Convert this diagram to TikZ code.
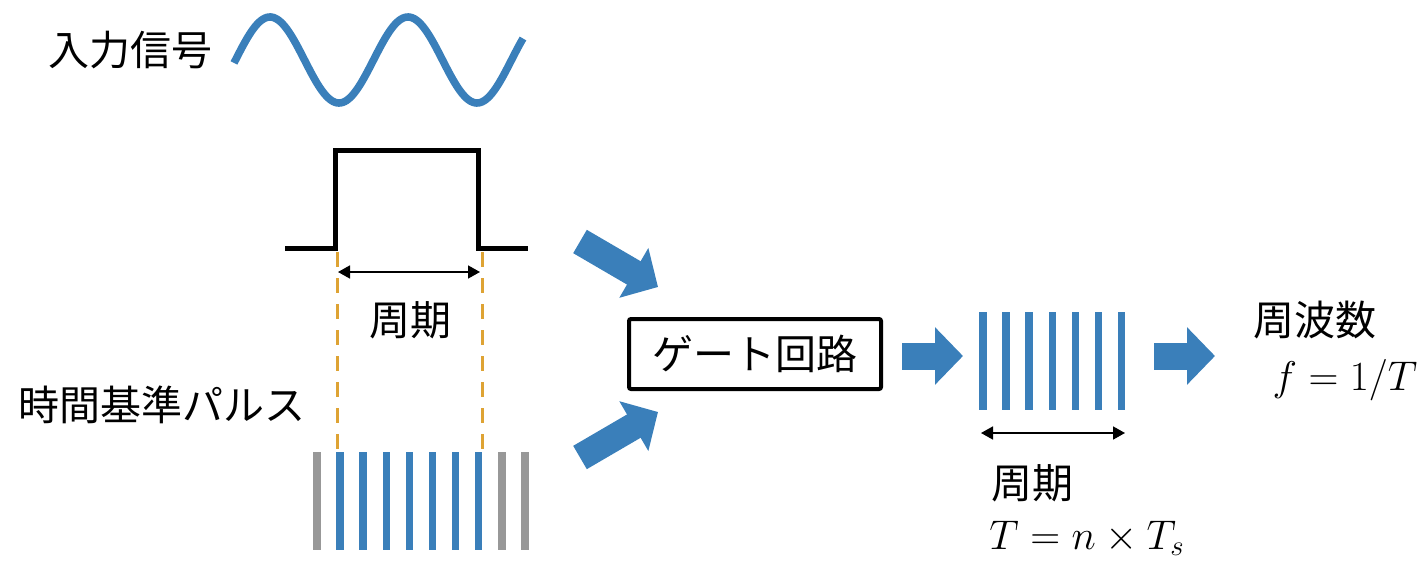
\documentclass[tikz,border=0pt]{standalone}
\usepackage{fontspec}
\setmainfont{Noto Sans CJK JP}
\usetikzlibrary{arrows.meta}
\definecolor{sigblue}{RGB}{58,127,186}
\definecolor{baregray}{RGB}{152,152,152}
\definecolor{dashorange}{RGB}{222,163,52}
\tikzset{
  jp/.style={font=\fontsize{20.5}{24}\selectfont, inner sep=0pt},
  mathlbl/.style={font=\fontsize{21}{24}\selectfont, inner sep=0pt},
  sine/.style={draw=sigblue, line width=3.8pt, line cap=butt},
  pulse/.style={draw=black, line width=2.5pt, line join=miter},
  guide/.style={draw=dashorange, line width=1.5pt, dash pattern=on 7.5pt off 5.5pt},
  dimarrow/.style={draw=black, line width=0.85pt, {Triangle[length=6pt,width=6.5pt]}-{Triangle[length=6pt,width=6.5pt]}},
  bigarrow/.style={draw=sigblue, line width=13.5pt, -{Triangle[length=14pt,width=28pt]}},
  gatebox/.style={draw=black, line width=2pt, rounded corners=1pt, minimum width=126pt, minimum height=35pt, inner sep=0pt, font=\fontsize{20.5}{24}\selectfont},
  bluebar/.style={fill=sigblue},
  graybar/.style={fill=baregray}
}
\begin{document}
\begin{tikzpicture}[x=0.5pt, y=-0.5pt]
\useasboundingbox (0,0) rectangle (1425,562);

% input signal
\node[jp] (insig) at (130,50) {入力信号};
\draw[sine] plot[domain=234:523, samples=150, smooth] (\x, {60 - 43*sin((\x-235.5)/138*360)});

% gate pulse
\draw[pulse] (285,248) -- (335,248) -- (335,150) -- (478,150) -- (478,248) -- (528,248);
\coordinate (gL0) at (337,252);
\coordinate (gL1) at (337,450);
\coordinate (gR0) at (482,252);
\coordinate (gR1) at (482,450);
\draw[guide] (gL0) -- (gL1);
\draw[guide] (gR0) -- (gR1);
\coordinate (pA) at (338,272);
\coordinate (pB) at (480,272);
\draw[dimarrow] (pA) -- (pB);
\node[jp] (per1) at (410,320) {周期};

% time base pulses
\node[jp] (tbase) at (162,405) {時間基準パルス};
\foreach \i in {0,...,9}{
  \pgfmathsetmacro{\cx}{317+23.1*\i}
  \ifnum\i=0
    \fill[graybar] (\cx-3.75,452) rectangle (\cx+3.75,550);
  \else\ifnum\i>7
    \fill[graybar] (\cx-3.75,452) rectangle (\cx+3.75,550);
  \else
    \fill[bluebar] (\cx-3.75,452) rectangle (\cx+3.75,550);
  \fi\fi
}

% gate circuit
\node[gatebox] (gate) at (755,354) {ゲート回路};
\coordinate (a1s) at (580,241.5);
\coordinate (a1e) at (658,287);
\coordinate (a2s) at (580,457.5);
\coordinate (a2e) at (658,412);
\draw[bigarrow] (a1s) -- (a1e);
\draw[bigarrow] (a2s) -- (a2e);

% output pulses
\coordinate (a3s) at (902,356);
\coordinate (a3e) at (963,356);
\draw[bigarrow] (a3s) -- (a3e);
\foreach \i in {0,...,6}{
  \pgfmathsetmacro{\cx}{983+23.1*\i}
  \fill[bluebar] (\cx-3.75,312) rectangle (\cx+3.75,410);
}
\coordinate (oA) at (981,433);
\coordinate (oB) at (1125,433);
\draw[dimarrow] (oA) -- (oB);
\node[jp] (per2) at (1032,483) {周期};
\node[mathlbl] (perf) at (1087,538) {$T = n \times T_s$};

% frequency
\coordinate (a4s) at (1154,356);
\coordinate (a4e) at (1215,356);
\draw[bigarrow] (a4s) -- (a4e);
\node[jp] (freq) at (1315,320) {周波数};
\node[mathlbl] (freqf) at (1345,380) {$f = 1/T$};
\end{tikzpicture}
\end{document}
